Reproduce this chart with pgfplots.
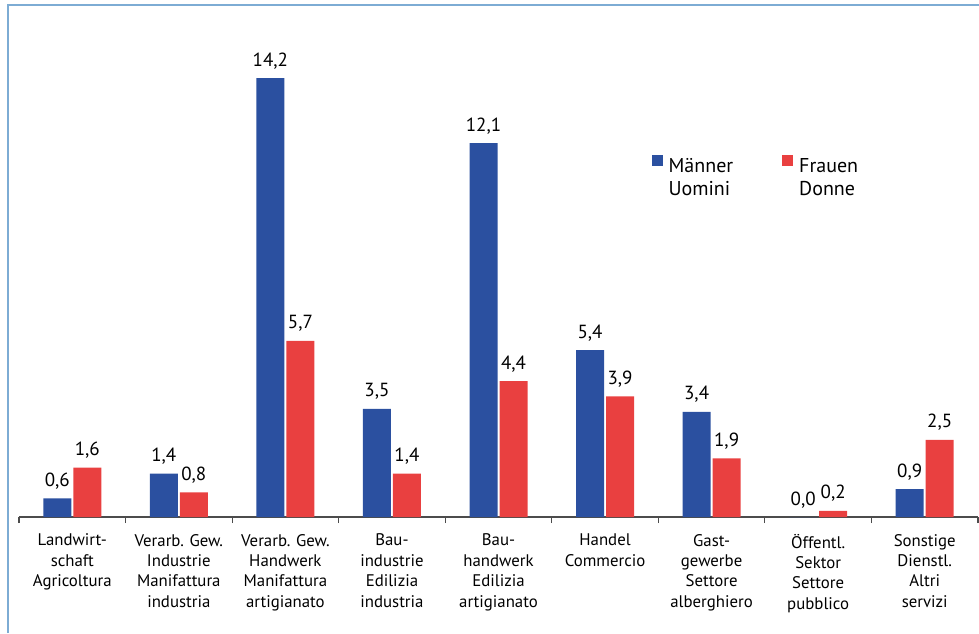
\documentclass[border=0pt]{standalone}
\usepackage{pgfplots}
\pgfplotsset{compat=1.18}
\usepackage{fontspec}
\setmainfont{PT Sans}
\definecolor{mblue}{RGB}{43,80,160}
\definecolor{fred}{RGB}{233,64,64}
\definecolor{framec}{RGB}{125,172,212}

\begin{document}
\frenchspacing
\begin{tikzpicture}
\useasboundingbox (0,0) rectangle (489.5pt,316.5pt);
\draw[framec, line width=0.8pt] (4pt,0) -- (4pt,314pt) -- (489.5pt,314pt);
\begin{axis}[
  at={(9.5pt,58pt)}, anchor=south west,
  scale only axis, width=479.5pt, height=247.2pt,
  xmin=-0.5, xmax=8.5, ymin=0, ymax=16,
  ybar=1pt, bar width=14pt,
  axis x line=bottom, axis y line=none,
  x axis line style={-, draw=black!70, line width=0.6pt},
  xtick={0,...,8}, major tick length=0pt,
  minor xtick={-0.5,0.5,...,8.5}, minor tick length=3pt,
  tick align=outside,
  minor tick style={draw=black!70, line width=0.6pt},
  xticklabels={
    {Landwirt-\\schaft\\Agricoltura},
    {Verarb. Gew.\\Industrie\\Manifattura\\industria},
    {Verarb. Gew.\\Handwerk\\Manifattura\\artigianato},
    {Bau-\\industrie\\Edilizia\\industria},
    {Bau-\\handwerk\\Edilizia\\artigianato},
    {Handel\\Commercio},
    {Gast-\\gewerbe\\Settore\\alberghiero},
    {Öffentl.\\Sektor\\Settore\\pubblico},
    {Sonstige\\Dienstl.\\Altri\\servizi}},
  xticklabel style={font=\fontsize{8.4}{10.2}\selectfont, align=center, text width=52pt, yshift=-5pt},
  /pgf/number format/.cd, use comma, fixed, fixed zerofill, precision=1, assume math mode=true,
  /pgfplots/.cd,
  nodes near coords,
  nodes near coords style={font=\fontsize{9.5}{11}\selectfont, anchor=base, yshift=6pt, text=black},
  legend style={at={(0.653,0.742)}, anchor=north west, draw=none, fill=none,
    legend columns=2, font=\fontsize{10}{11.5}\selectfont,
    /tikz/every even column/.append style={column sep=22.5pt},
    /tikz/every odd column/.append style={column sep=1pt},
    cells={align=left, anchor=west}},
  legend image code/.code={\fill[#1,draw=none] (0pt,6.5pt) rectangle (5.5pt,12pt);},
]
\addplot[fill=mblue, draw=none] coordinates {(0,0.6) (1,1.4) (2,14.2) (3,3.5) (4,12.1) (5,5.4) (6,3.4) (7,0.0) (8,0.9)};
\addlegendentry{Männer\\Uomini}
\addplot[fill=fred, draw=none] coordinates {(0,1.6) (1,0.8) (2,5.7) (3,1.4) (4,4.4) (5,3.9) (6,1.9) (7,0.2) (8,2.5)};
\addlegendentry{Frauen\\Donne}
\end{axis}
\end{tikzpicture}
\end{document}
